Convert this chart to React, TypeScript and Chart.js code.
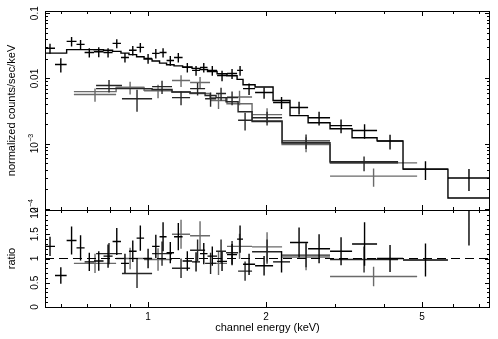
import React, { useEffect, useRef } from 'react';
import { Chart, registerables } from 'chart.js';

Chart.register(...registerables);

const FONT = '"Liberation Sans", Arial, sans-serif';

// axis ranges
const E_MIN = 0.546;
const E_MAX = 7.45;
const COUNTS_MIN = 9.69e-5;
const COUNTS_MAX = 0.108;
const RATIO_MIN = 0;
const RATIO_MAX = 2;

// tick marks / labels
const xMajorTicks = [1, 2, 5];
const xMinorTicks = [0.6, 0.7, 0.8, 0.9, 3, 4, 6, 7];
const xTickLabels = ['1', '2', '5'];
const countsMajorTicks = [1e-4, 1e-3, 1e-2, 1e-1];
const countsTickLabels = [['10', '\u22124'], ['10', '\u22123'], ['0.01', ''], ['0.1', '']];
const ratioMajorTicks = [0, 0.5, 1, 1.5, 2];
const ratioTickLabels = ['0', '0.5', '1', '1.5', '2'];

// dataset 1 (black): bin edges in keV
const pnEdges = [0.546, 0.579, 0.62, 0.657, 0.689, 0.728, 0.77, 0.812, 0.853, 0.894, 0.935, 0.977, 1.024, 1.07,
  1.115, 1.165, 1.225, 1.295, 1.357, 1.418, 1.5, 1.59, 1.687, 1.747, 1.875, 2.084, 2.302, 2.56, 2.912, 3.314,
  3.838, 4.47, 5.82, 7.45];
const pnCounts = [0.029, 0.0164, 0.037, 0.0333, 0.025, 0.0257, 0.025, 0.0345, 0.021, 0.027, 0.03, 0.0203, 0.0242,
  0.025, 0.0189, 0.021, 0.0148, 0.0133, 0.0148, 0.0133, 0.0111, 0.0119, 0.0133,
  0.007, 0.0061, 0.0043, 0.0036, 0.0025, 0.0019, 0.0016, 0.0011, 0.00041, 0.0003];
const pnErr = [0.005, 0.004, 0.006, 0.0055, 0.004, 0.0045, 0.004, 0.0055, 0.0035, 0.0045, 0.005, 0.0035, 0.004,
  0.004, 0.0032, 0.0035, 0.0025, 0.0023, 0.0025, 0.0023, 0.002, 0.0021, 0.0023,
  0.0014, 0.0012, 0.0009, 0.0008, 0.0006, 0.00045, 0.0004, 0.00028, 0.00013, 0.00011];
const pnModel = [0.0245, 0.0245, 0.0277, 0.0277, 0.0277, 0.0275, 0.027, 0.026, 0.0245, 0.0232, 0.0215, 0.0198,
  0.0185, 0.0172, 0.0162, 0.0156, 0.015, 0.0143, 0.0137, 0.0128, 0.0118, 0.011, 0.0097,
  0.008, 0.0074, 0.0046, 0.0027, 0.0021, 0.0017, 0.00124, 0.00111, 0.00041, 0.000148];
const pnRatio = [1.25, 0.65, 1.37, 1.22, 0.93, 0.95, 1.05, 1.35, 0.9, 1.15, 1.42, 1.0, 1.25, 1.45, 1.12, 1.45,
  0.95, 0.93, 1.1, 1.05, 0.94, 1.08, 1.4, 0.88, 0.85, 0.93, 1.33, 1.2, 1.15, 1.3, 1.0, 0.97, 2.0];
const pnRatioErr = [0.2, 0.17, 0.29, 0.26, 0.19, 0.2, 0.24, 0.28, 0.2, 0.22, 0.26, 0.2, 0.24, 0.3, 0.22, 0.28,
  0.2, 0.2, 0.22, 0.2, 0.2, 0.22, 0.28, 0.22, 0.2, 0.22, 0.31, 0.3, 0.29, 0.45, 0.28, 0.34, 0.73];

// dataset 2 (dark)
const mos1Edges = [0.737, 0.858, 1.024, 1.151, 1.28, 1.398, 1.491, 1.581, 1.697, 1.842, 2.197, 2.912, 4.342];
const mos1Counts = [0.0078, 0.0049, 0.0075, 0.0051, 0.007, 0.0049, 0.0059, 0.0051, 0.0023, 0.0025, 0.00111, 0.00051];
const mos1Err = [0.0017, 0.0018, 0.0017, 0.0012, 0.0015, 0.0012, 0.0013, 0.0012, 0.0007, 0.0006, 0.00028, 0.00013];
const mos1Model = [0.007, 0.007, 0.0068, 0.0062, 0.006, 0.0055, 0.0051, 0.0044, 0.0031, 0.0022, 0.00104, 0.00053];
const mos1Ratio = [1.1, 0.69, 1.1, 0.8, 1.17, 0.9, 1.15, 1.12, 0.74, 1.14, 1.07, 0.98];
const mos1RatioErr = [0.22, 0.3, 0.25, 0.2, 0.22, 0.22, 0.24, 0.24, 0.2, 0.25, 0.25, 0.27];

// dataset 3 (grey)
const mos2Edges = [0.647, 0.829, 0.977, 1.151, 1.28, 1.439, 1.59, 1.842, 2.197, 2.912, 4.856];
const mos2Counts = [0.0057, 0.0073, 0.0065, 0.0093, 0.0087, 0.0046, 0.0052, 0.0028, 0.001, 0.00032];
const mos2Err = [0.0013, 0.0016, 0.0015, 0.0019, 0.0018, 0.0012, 0.0013, 0.0007, 0.00026, 0.0001];
const mos2Model = [0.0063, 0.0073, 0.0066, 0.0062, 0.0059, 0.0051, 0.0041, 0.00226, 0.00097, 0.00051];
const mos2Ratio = [0.9, 1.0, 0.98, 1.5, 1.47, 0.9, 1.25, 1.24, 1.03, 0.63];
const mos2RatioErr = [0.2, 0.22, 0.23, 0.3, 0.3, 0.24, 0.26, 0.3, 0.27, 0.2];

const COL1 = '#000000';
const COL2 = '#262626';
const COL3 = '#6a6a6a';
const LINE_W = 1.4;

type P = { x: number; y: number | null };

function crosses(edges: number[], vals: number[], errs: number[], cap?: number): P[] {
  const pts: P[] = [];
  for (let i = 0; i < vals.length; i++) {
    const lo = edges[i];
    const hi = edges[i + 1];
    const c = Math.sqrt(lo * hi);
    const v = vals[i];
    const e = errs[i];
    const top = cap !== undefined ? Math.min(v + e, cap) : v + e;
    pts.push({ x: lo, y: v }, { x: hi, y: v }, { x: hi, y: null });
    pts.push({ x: c, y: v - e }, { x: c, y: top }, { x: c, y: null });
  }
  return pts;
}

function steps(edges: number[], model: number[]): P[] {
  const pts: P[] = model.map((m, i) => ({ x: edges[i], y: m }));
  pts.push({ x: edges[edges.length - 1], y: model[model.length - 1] });
  return pts;
}

function ds(data: P[], color: string, yAxisID: string, extra: any = {}) {
  return {
    type: 'line' as const,
    data,
    borderColor: color,
    backgroundColor: color,
    borderWidth: LINE_W,
    pointRadius: 0,
    fill: false,
    tension: 0,
    spanGaps: false,
    yAxisID,
    ...extra,
  };
}

const framePlugin = {
  id: 'xspecFrame',
  afterDatasetsDraw(chart: any) {
    const { ctx } = chart;
    const xs = chart.scales.x;
    const ys = chart.scales.y;
    const rs = chart.scales.y2;
    const L = xs.left;
    const R = xs.right;
    ctx.save();
    ctx.strokeStyle = '#000';
    ctx.lineWidth = 1;
    const panels = [ys, rs];
    for (const p of panels) {
      ctx.strokeRect(Math.round(L) + 0.5, Math.round(p.top) + 0.5, Math.round(R - L) - 1, Math.round(p.bottom - p.top));
    }
    ctx.beginPath();
    const xt = [...xMajorTicks.map((v) => [v, 5]), ...xMinorTicks.map((v) => [v, 3])];
    for (const [v, len] of xt) {
      const px = Math.round(xs.getPixelForValue(v)) + 0.5;
      for (const p of panels) {
        ctx.moveTo(px, p.top);
        ctx.lineTo(px, p.top + len);
        ctx.moveTo(px, p.bottom);
        ctx.lineTo(px, p.bottom - len);
      }
    }
    const yt: number[][] = [];
    for (const d of countsMajorTicks) {
      yt.push([d, 5]);
      for (let k = 2; k <= 9; k++) {
        const v = k * d;
        if (v > COUNTS_MIN && v < COUNTS_MAX) yt.push([v, 3]);
      }
    }
    for (const [v, len] of yt) {
      const py = Math.round(ys.getPixelForValue(v)) + 0.5;
      ctx.moveTo(L, py);
      ctx.lineTo(L + len, py);
      ctx.moveTo(R, py);
      ctx.lineTo(R - len, py);
    }
    for (let i = 0; i <= 20; i++) {
      const v = RATIO_MIN + i * 0.1;
      const len = i % 5 === 0 ? 5 : 3;
      const py = Math.round(rs.getPixelForValue(v)) + 0.5;
      ctx.moveTo(L, py);
      ctx.lineTo(L + len, py);
      ctx.moveTo(R, py);
      ctx.lineTo(R - len, py);
    }
    ctx.stroke();

    // tick labels
    ctx.fillStyle = '#000';
    const big = `10px ${FONT}`;
    const small = `7px ${FONT}`;
    const labelX = L - 10;
    const drawRot = (py: number, main: string, sup: string) => {
      ctx.save();
      ctx.translate(labelX, py);
      ctx.rotate(-Math.PI / 2);
      ctx.textBaseline = 'middle';
      ctx.textAlign = 'left';
      ctx.font = big;
      const w1 = ctx.measureText(main).width;
      ctx.font = small;
      const w2 = sup ? ctx.measureText(sup).width : 0;
      const start = -(w1 + w2) / 2;
      ctx.font = big;
      ctx.fillText(main, start, 0);
      if (sup) {
        ctx.font = small;
        ctx.fillText(sup, start + w1 + 0.5, -4);
      }
      ctx.restore();
    };
    countsMajorTicks.forEach((v, i) => drawRot(ys.getPixelForValue(v), countsTickLabels[i][0], countsTickLabels[i][1]));
    ratioMajorTicks.forEach((v, i) => drawRot(rs.getPixelForValue(v), ratioTickLabels[i], ''));
    ctx.font = big;
    ctx.textAlign = 'center';
    ctx.textBaseline = 'middle';
    xMajorTicks.forEach((v, i) => ctx.fillText(xTickLabels[i], xs.getPixelForValue(v), rs.bottom + 10));
    ctx.restore();
  },
};

export default function App() {
  const ref = useRef<HTMLCanvasElement | null>(null);
  useEffect(() => {
    if (!ref.current) return;
    const chart = new Chart(ref.current, {
      type: 'line',
      data: {
        datasets: [
          ds(steps(pnEdges, pnModel), COL1, 'y', { stepped: true }),
          ds(crosses(pnEdges, pnCounts, pnErr), COL1, 'y'),
          ds(steps(mos1Edges, mos1Model), COL2, 'y', { stepped: true }),
          ds(crosses(mos1Edges, mos1Counts, mos1Err), COL2, 'y'),
          ds(steps(mos2Edges, mos2Model), COL3, 'y', { stepped: true }),
          ds(crosses(mos2Edges, mos2Counts, mos2Err), COL3, 'y'),
          ds([{ x: E_MIN, y: 1 }, { x: E_MAX, y: 1 }], '#000', 'y2', { borderDash: [9, 5], borderWidth: 1 }),
          ds(crosses(pnEdges, pnRatio, pnRatioErr, RATIO_MAX), COL1, 'y2'),
          ds(crosses(mos1Edges, mos1Ratio, mos1RatioErr, RATIO_MAX), COL2, 'y2'),
          ds(crosses(mos2Edges, mos2Ratio, mos2RatioErr, RATIO_MAX), COL3, 'y2'),
        ] as any,
      },
      options: {
        animation: false,
        responsive: false,
        devicePixelRatio: 1,
        events: [],
        layout: { padding: { top: 11, right: 8, left: 0, bottom: 0 } },
        plugins: { legend: { display: false }, tooltip: { enabled: false } },
        scales: {
          x: {
            type: 'logarithmic',
            min: E_MIN,
            max: E_MAX,
            position: 'bottom',
            grid: { display: false, drawTicks: false },
            border: { display: false },
            ticks: { display: false },
            title: { display: true, text: 'channel energy (keV)', color: '#000', font: { family: FONT, size: 11 }, padding: { top: 0, bottom: 4 } },
            afterFit: (s: any) => { s.height = 32; },
          },
          y2: {
            type: 'linear',
            min: RATIO_MIN,
            max: RATIO_MAX,
            position: 'left',
            stack: 'panels',
            stackWeight: 97,
            grid: { display: false, drawTicks: false },
            border: { display: false },
            ticks: { display: false },
            title: { display: true, text: 'ratio', color: '#000', font: { family: FONT, size: 11 }, padding: { top: 5, bottom: 0 } },
            afterFit: (s: any) => { s.width = 45; },
          },
          y: {
            type: 'logarithmic',
            min: COUNTS_MIN,
            max: COUNTS_MAX,
            position: 'left',
            stack: 'panels',
            stackWeight: 199,
            grid: { display: false, drawTicks: false },
            border: { display: false },
            ticks: { display: false },
            title: { display: true, text: 'normalized counts/sec/keV', color: '#000', font: { family: FONT, size: 11 }, padding: { top: 5, bottom: 0 } },
            afterFit: (s: any) => { s.width = 45; },
          },
        } as any,
      },
      plugins: [framePlugin],
    });
    return () => chart.destroy();
  }, []);
  return (
    <div style={{ position: 'fixed', left: 0, top: 0, width: 498, height: 339, background: '#fff' }}>
      <canvas ref={ref} width={498} height={339} style={{ display: 'block', width: 498, height: 339 }} />
    </div>
  );
}
